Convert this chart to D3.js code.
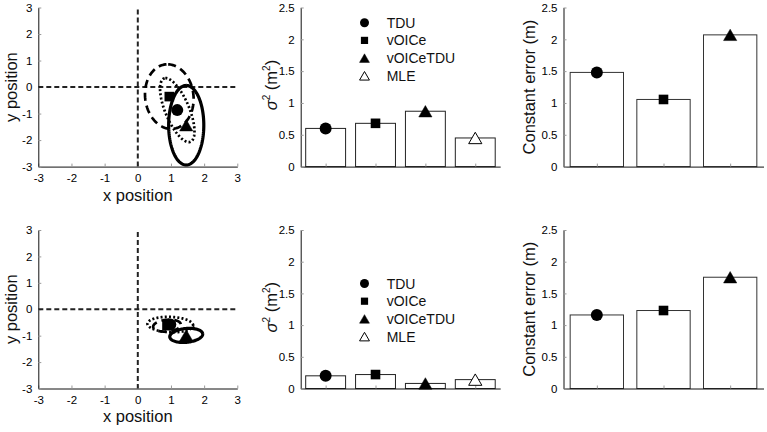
<!DOCTYPE html>
<html>
<head>
<meta charset="utf-8">
<script src="https://cdn.jsdelivr.net/npm/d3@7"></script>
<style>
  html, body { margin: 0; padding: 0; background: #fff; }
  svg { display: block; font-family: "Liberation Sans", Arial, Helvetica, sans-serif; }
</style>
</head>
<body>
<svg id="chart" width="767" height="432"></svg>
<script>
// ---------------- DATA ----------------
const models = ["TDU", "vOICe", "vOICeTDU", "MLE"];
const markerShapes = ["circle", "square", "triangle", "openTriangle"];
const positionTicks = [-3, -2, -1, 0, 1, 2, 3];
const barTicks = [0, 0.5, 1, 1.5, 2, 2.5];

// Row 1
const variance1 = [0.60, 0.68, 0.87, 0.45];
const constantError1 = [1.48, 1.055, 2.07];
const centerX1 = [1.19, 0.95, 1.46];
const centerY1 = [-0.87, -0.36, -1.44];
const ellipseA1 = [1.26, 1.22, 1.50];   // semi-major (data units)
const ellipseB1 = [0.37, 0.73, 0.53];   // semi-minor (data units)
const ellipseAngle1 = [107.6, 94, 90];  // degrees

// Row 2
const variance2 = [0.20, 0.22, 0.08, 0.14];
const constantError2 = [1.16, 1.23, 1.755];
const centerX2 = [0.98, 0.88, 1.46];
const centerY2 = [-0.58, -0.62, -0.99];
const ellipseA2 = [0.69, 0.42, 0.50];
const ellipseB2 = [0.29, 0.22, 0.26];
const ellipseAngle2 = [-3, 8, 8];

const ellipseStyles = ["dotted", "dashed", "solid"];

// ---------------- LAYOUT ----------------
const rows = [
  { top: 7.5, bottom: 166.6, variance: variance1, ce: constantError1,
    cx: centerX1, cy: centerY1, a: ellipseA1, b: ellipseB1, ang: ellipseAngle1,
    legendY: 22.7, xLabelY: 200.5 },
  { top: 230, bottom: 388.5, variance: variance2, ce: constantError2,
    cx: centerX2, cy: centerY2, a: ellipseA2, b: ellipseB2, ang: ellipseAngle2,
    legendY: 283.5, xLabelY: 421.5 }
];
const p1 = [38.3, 237.3], p2 = [300.7, 500.2], p3 = [563.5, 763.5];

const svg = d3.select("#chart");
const tickFont = 11.5, labelFont = 16.5;
const fmt = d => String(d);

function styleAxis(g) {
  g.select(".domain").attr("stroke", "#111").attr("stroke-width", 1);
  g.selectAll(".tick line").attr("stroke", "#999").attr("stroke-width", 1);
  g.selectAll(".tick text").attr("fill", "#000").attr("font-size", tickFont)
    .attr("font-family", "Liberation Sans, Arial, sans-serif");
}

function drawMarker(g, shape, x, y, size) {
  const s = size;
  if (shape === "circle") {
    g.append("circle").attr("cx", x).attr("cy", y).attr("r", s * 0.5).attr("fill", "#000");
  } else if (shape === "square") {
    const w = s * 0.8;
    g.append("rect").attr("x", x - w / 2).attr("y", y - w / 2).attr("width", w).attr("height", w).attr("fill", "#000");
  } else {
    const h = s * 0.95, w = s * 1.1;
    const pts = [[x, y - h / 2], [x + w / 2, y + h / 2], [x - w / 2, y + h / 2]];
    g.append("polygon").attr("points", pts.map(p => p.join(",")).join(" "))
      .attr("fill", shape === "openTriangle" ? "#fff" : "#000")
      .attr("stroke", "#000").attr("stroke-width", shape === "openTriangle" ? 1 : 0.5);
  }
}

rows.forEach((row) => {
  // ---------- Panel 1: position scatter ----------
  const x1 = d3.scaleLinear().domain([-3, 3]).range(p1);
  const y1 = d3.scaleLinear().domain([-3, 3]).range([row.bottom, row.top]);
  const g1 = svg.append("g");

  g1.append("g").attr("transform", `translate(0,${row.bottom})`)
    .call(d3.axisBottom(x1).tickValues(positionTicks).tickFormat(fmt).tickSizeInner(-3).tickSizeOuter(0).tickPadding(7))
    .call(styleAxis);
  g1.append("g").attr("transform", `translate(${p1[0]},0)`)
    .call(d3.axisLeft(y1).tickValues(positionTicks).tickFormat(fmt).tickSizeInner(-3).tickSizeOuter(0).tickPadding(6))
    .call(styleAxis);

  // crosshair dashed lines
  g1.append("line").attr("x1", x1(0)).attr("x2", x1(0)).attr("y1", y1(3) + 2).attr("y2", y1(-3))
    .attr("stroke", "#222").attr("stroke-width", 2).attr("stroke-dasharray", "5,3");
  g1.append("line").attr("x1", x1(-3)).attr("x2", x1(3)).attr("y1", y1(0)).attr("y2", y1(0))
    .attr("stroke", "#222").attr("stroke-width", 2).attr("stroke-dasharray", "5,3");

  // ellipses
  const line = d3.line().x(d => x1(d[0])).y(d => y1(d[1]));
  [1, 0, 2].forEach(i => {
    const th = row.ang[i] * Math.PI / 180;
    const pts = d3.range(0, 361, 3).map(deg => {
      const t = deg * Math.PI / 180;
      return [row.cx[i] + row.a[i] * Math.cos(th) * Math.cos(t) - row.b[i] * Math.sin(th) * Math.sin(t),
              row.cy[i] + row.a[i] * Math.sin(th) * Math.cos(t) + row.b[i] * Math.cos(th) * Math.sin(t)];
    });
    const st = ellipseStyles[i];
    g1.append("path").attr("d", line(pts)).attr("fill", "none").attr("stroke", "#000")
      .attr("stroke-width", st === "solid" ? 3.2 : 2.7)
      .attr("stroke-dasharray", st === "dashed" ? "8,5" : st === "dotted" ? "2,2.2" : null);
  });
  // markers (square, circle, triangle)
  [1, 0, 2].forEach(i => drawMarker(g1, markerShapes[i], x1(row.cx[i]), y1(row.cy[i]), 12));

  g1.append("text").attr("x", (p1[0] + p1[1]) / 2).attr("y", row.xLabelY)
    .attr("text-anchor", "middle").attr("font-size", labelFont).attr("fill", "#111").text("x position");
  g1.append("text").attr("transform", `translate(16.5,${(row.top + row.bottom) / 2}) rotate(-90)`)
    .attr("text-anchor", "middle").attr("font-size", labelFont).attr("fill", "#111").text("y position");

  // ---------- Panel 2: variance bars ----------
  const x2 = d3.scaleLinear().domain([0.5, models.length + 0.5]).range(p2);
  const y2 = d3.scaleLinear().domain([0, 2.5]).range([row.bottom, row.top]);
  const g2 = svg.append("g");
  const bw2 = x2(1.4) - x2(0.6);
  g2.selectAll("rect.bar").data(row.variance).enter().append("rect")
    .attr("x", (d, i) => x2(i + 1) - bw2 / 2).attr("width", bw2)
    .attr("y", d => y2(d)).attr("height", d => y2(0) - y2(d))
    .attr("fill", "#fff").attr("stroke", "#222").attr("stroke-width", 1);
  g2.append("g").attr("transform", `translate(0,${row.bottom})`)
    .call(d3.axisBottom(x2).tickValues(d3.range(1, models.length + 1)).tickFormat("").tickSizeInner(-3).tickSizeOuter(0))
    .call(styleAxis);
  g2.append("g").attr("transform", `translate(${p2[0]},0)`)
    .call(d3.axisLeft(y2).tickValues(barTicks).tickFormat(fmt).tickSizeInner(-3).tickSizeOuter(0).tickPadding(6))
    .call(styleAxis);
  row.variance.forEach((v, i) => drawMarker(g2, markerShapes[i], x2(i + 1), y2(v), 12));

  // legend
  const lg = g2.append("g");
  models.forEach((m, i) => {
    const ly = row.legendY + i * 17.7;
    drawMarker(lg, markerShapes[i], 364.5, ly, 9);
    lg.append("text").attr("x", 386.7).attr("y", ly).attr("dy", "0.36em")
      .attr("font-size", 14).attr("fill", "#111").text(m);
  });

  const yl = g2.append("text").attr("transform", `translate(277,${(row.top + row.bottom) / 2 - 2}) rotate(-90)`)
    .attr("text-anchor", "middle").attr("font-size", labelFont).attr("fill", "#111");
  yl.append("tspan").attr("font-style", "italic").text("σ");
  yl.append("tspan").attr("font-size", 10).attr("dy", -7).text("2");
  yl.append("tspan").attr("dy", 7).text(" (m");
  yl.append("tspan").attr("font-size", 10).attr("dy", -7).text("2");
  yl.append("tspan").attr("dy", 7).text(")");

  // ---------- Panel 3: constant error bars ----------
  const n3 = row.ce.length;
  const x3 = d3.scaleLinear().domain([0.5, n3 + 0.5]).range(p3);
  const y3 = d3.scaleLinear().domain([0, 2.5]).range([row.bottom, row.top]);
  const g3 = svg.append("g");
  const bw3 = x3(1.4) - x3(0.6);
  g3.selectAll("rect.bar").data(row.ce).enter().append("rect")
    .attr("x", (d, i) => x3(i + 1) - bw3 / 2).attr("width", bw3)
    .attr("y", d => y3(d)).attr("height", d => y3(0) - y3(d))
    .attr("fill", "#fff").attr("stroke", "#333").attr("stroke-width", 1);
  g3.append("g").attr("transform", `translate(0,${row.bottom})`)
    .call(d3.axisBottom(x3).tickValues(d3.range(1, n3 + 1)).tickFormat("").tickSizeInner(-3).tickSizeOuter(0))
    .call(styleAxis);
  g3.append("g").attr("transform", `translate(${p3[0]},0)`)
    .call(d3.axisLeft(y3).tickValues(barTicks).tickFormat(fmt).tickSizeInner(-3).tickSizeOuter(0).tickPadding(6))
    .call(styleAxis);
  row.ce.forEach((v, i) => drawMarker(g3, markerShapes[i], x3(i + 1), y3(v), 12));
  g3.append("text").attr("transform", `translate(535,${(row.top + row.bottom) / 2}) rotate(-90)`)
    .attr("text-anchor", "middle").attr("font-size", labelFont).attr("fill", "#111").text("Constant error (m)");
});
</script>
</body>
</html>
